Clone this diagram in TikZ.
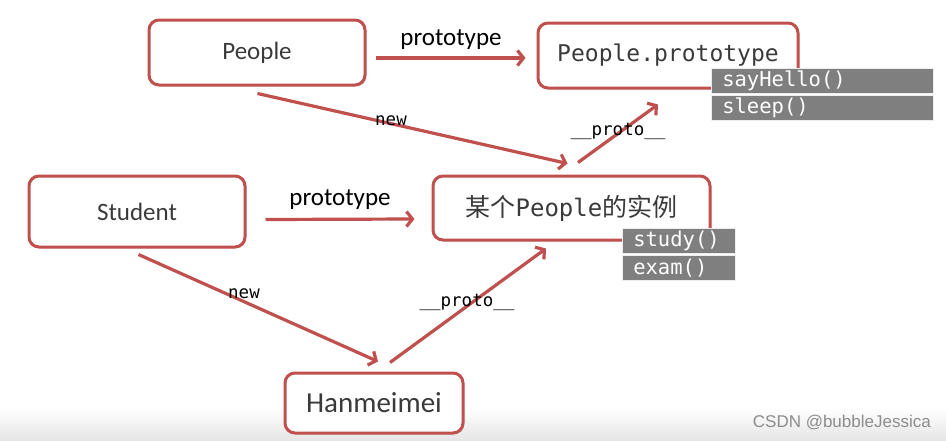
\documentclass[tikz,border=0pt]{standalone}
\usepackage{fontspec}
\setmainfont{Carlito}
\newfontfamily\monof{DejaVu Sans Mono}
\newfontfamily\cjkf{Noto Sans CJK SC}
\newfontfamily\wmf{Liberation Sans}
\usetikzlibrary{arrows.meta,calc,shadows}
\definecolor{boxred}{HTML}{C0504D}
\definecolor{txtgray}{HTML}{3A3A3A}
\definecolor{bargray}{HTML}{7F7F7F}
\tikzset{
  rbox/.style={draw=boxred, line width=3pt, fill=white, rounded corners=10pt,
    inner sep=0pt, text=txtgray,
    drop shadow={shadow xshift=1.5pt, shadow yshift=-1.5pt, opacity=0.2}},
  bar/.style={fill=bargray, draw=white!85!bargray, line width=0.6pt, anchor=west,
    minimum height=25pt, inner xsep=11pt, inner ysep=0pt, text width=200pt,
    align=left, text=white, font=\monof\fontsize{20.5}{20.5}\selectfont},
  arr/.style={draw=boxred, line width=3.2pt, -{Straight Barb[length=6pt,width=15pt]}},
  lbl/.style={text=black, inner sep=0pt},
  monolbl/.style={lbl, font=\monof\fontsize{17.5}{18}\selectfont},
  protolbl/.style={lbl, font=\fontsize{25}{25}\selectfont}
}
\begin{document}
\begin{tikzpicture}[x=1pt,y=-1pt]
\useasboundingbox (0,0) rectangle (946,440);
\fill[white] (0,0) rectangle (946,440);
\shade[top color=white, bottom color=black!10] (0,408) rectangle (946,440);

% boxes
\node[rbox, minimum width=216pt, minimum height=65pt, font=\fontsize{25}{25}\selectfont]
  (People) at (257,52.5) {People};
\node[rbox, minimum width=260pt, minimum height=65pt, font=\monof\fontsize{23}{23}\selectfont]
  (proto) at (668,55.5) {People.prototype};
\node[rbox, minimum width=216pt, minimum height=71pt, font=\fontsize{25}{25}\selectfont]
  (Student) at (137,211.5) {Student};
\node[rbox, minimum width=277pt, minimum height=64pt]
  (inst) at (571.5,208) {\cjkf\fontsize{25}{25}\selectfont 某个{\monof\fontsize{24}{24}\selectfont People}的实例};
\node[rbox, minimum width=178pt, minimum height=60pt, font=\fontsize{29}{29}\selectfont]
  (Han) at (374,403) {Hanmeimei};

% method bars
\node[bar] (sayHello) at (711,81) {sayHello()};
\node[bar] (sleep) at (711,108) {sleep()};
\node[bar, text width=91pt] (study) at (622,240.5) {study()};
\node[bar, text width=91pt] (exam) at (622,268) {exam()};

% connectors
\draw[arr] ($(People.east)+(9,5.5)$) -- ($(proto.west)+(-11,2.5)$);
\draw[arr] ($(People.south)+(0.5,7)$) -- ($(inst.north)+(-4,-11)$);
\draw[arr] ($(inst.north)+(6.5,-12)$) -- ($(proto.south)+(-10,15)$);
\draw[arr] ($(Student.east)+(19,8)$) -- ($(inst.west)+(-17,11)$);
\draw[arr] ($(Student.south)+(1.5,6)$) -- ($(Han.north)+(4,-10)$);
\draw[arr] ($(Han.north)+(16,-9)$) -- ($(inst.south)+(-25.5,7)$);

% labels
\node[protolbl] (lp1) at (451,40) {prototype};
\node[protolbl] (lp2) at (340,200) {prototype};
\node[monolbl] (ln1) at (391,121) {new};
\node[monolbl] (ln2) at (244,294) {new};
\node[monolbl] (lq1) at (618,131) {\_\_proto\_\_};
\node[monolbl] (lq2) at (467,302) {\_\_proto\_\_};

% watermark
\node[text=black!45, font=\wmf\fontsize{17}{17}\selectfont, anchor=east, inner sep=0pt]
  (wm) at (931,423) {CSDN @bubbleJessica};
\end{tikzpicture}
\end{document}
